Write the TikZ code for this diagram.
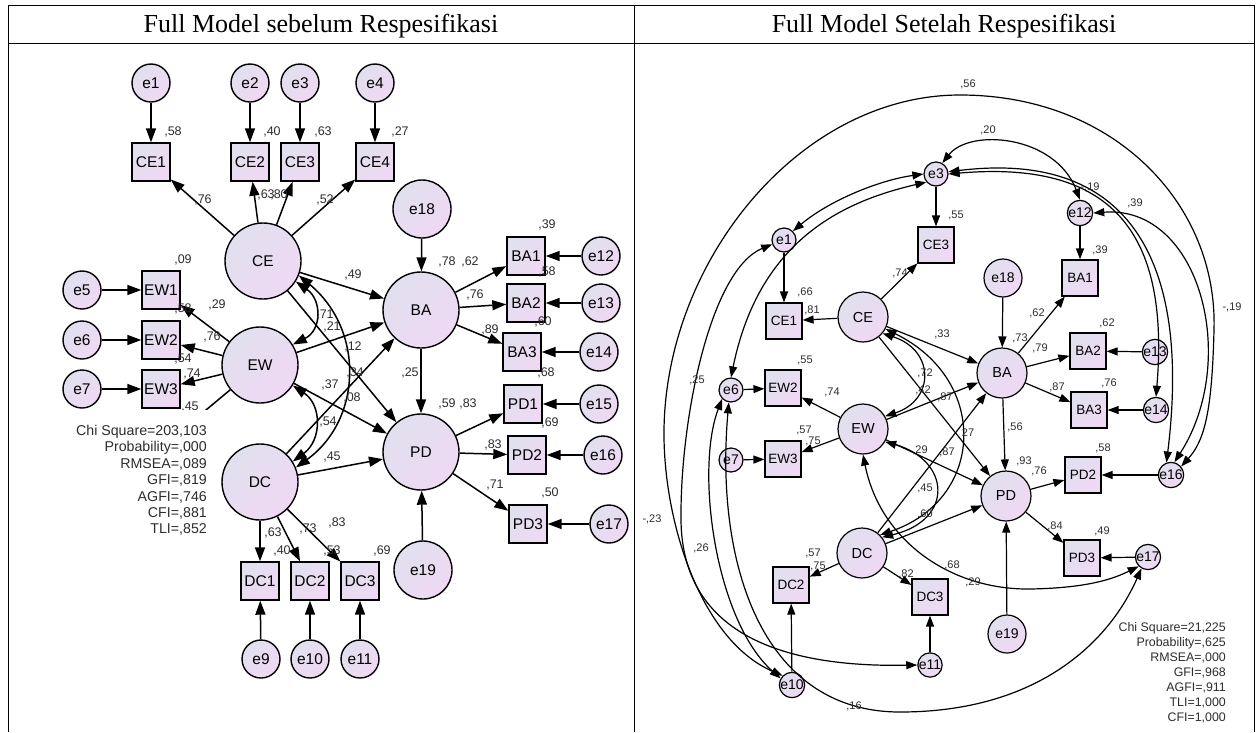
\documentclass[tikz,border=0pt]{standalone}
\usepackage{fontspec}
\setmainfont{Liberation Sans}
\newfontfamily\ttlfont{Liberation Serif}
\usetikzlibrary{arrows.meta}
\definecolor{shA}{RGB}{224,224,238}
\definecolor{shB}{RGB}{240,216,244}
\definecolor{lbl}{RGB}{45,45,45}
\begin{document}
\begin{tikzpicture}[x=1pt,y=1pt,
 shd/.style={top color=shA, bottom color=shB, shading angle=45},
 latL/.style={circle, draw, line width=1.4pt, minimum size=76pt, inner sep=0pt, shd, font=\fontsize{15.5}{18}\selectfont},
 obsL/.style={rectangle, draw, line width=1.4pt, minimum width=38pt, minimum height=38pt, inner sep=0pt, shd, font=\fontsize{15.5}{18}\selectfont},
 errL/.style={circle, draw, line width=1.4pt, minimum size=38pt, inner sep=0pt, shd, font=\fontsize{15.5}{18}\selectfont},
 bigeL/.style={errL, minimum size=58pt},
 lnL/.style={line width=1.5pt},
 arL/.style={lnL, -{Triangle[length=14pt,width=10pt]}},
 darL/.style={lnL, {Triangle[length=14pt,width=10pt]}-{Triangle[length=14pt,width=10pt]}},
 coL/.style={font=\fontsize{12.5}{14}\selectfont, text=lbl, inner sep=0pt},
 latR/.style={circle, draw, line width=1.2pt, minimum size=50pt, inner sep=0pt, shd, font=\fontsize{14.5}{17}\selectfont},
 obsR/.style={rectangle, draw, line width=1.2pt, minimum width=36pt, minimum height=36pt, inner sep=0pt, shd, font=\fontsize{13.5}{16}\selectfont},
 errR/.style={circle, draw, line width=1.2pt, minimum size=24pt, inner sep=0pt, shd, font=\fontsize{14}{16}\selectfont},
 bigeR/.style={errR, minimum size=38pt},
 lnR/.style={line width=1.2pt},
 arR/.style={lnR, -{Triangle[length=11pt,width=8pt]}},
 darR/.style={lnR, {Triangle[length=11pt,width=8pt]}-{Triangle[length=11pt,width=8pt]}},
 coR/.style={font=\fontsize{11}{13}\selectfont, text=lbl, inner sep=0pt},
 ttl/.style={font=\ttlfont\fontsize{26}{30}\selectfont, anchor=base, inner sep=0pt}
]
\useasboundingbox (0,0) rectangle (1259,-732);
\fill[white] (0,0) rectangle (1259,-732);
% table
\draw[line width=0.8pt] (8,-5) -- (1254,-5) (8,-43) -- (1254,-43)
  (8,-5) -- (8,-732) (634,-5) -- (634,-732) (1254,-5) -- (1254,-732);
\node[ttl] (t1) at (321,-32) {Full Model sebelum Respesifikasi};
\node[ttl] (t2) at (944,-32) {Full Model Setelah Respesifikasi};

% ================= LEFT =================
\node[errL] (Le1) at (151,-83) {e1};
\node[errL] (Le2) at (250,-83) {e2};
\node[errL] (Le3) at (300,-83) {e3};
\node[errL] (Le4) at (375,-83) {e4};
\node[obsL] (LCE1) at (151,-162) {CE1};
\node[obsL] (LCE2) at (250,-162) {CE2};
\node[obsL] (LCE3) at (300,-162) {CE3};
\node[obsL] (LCE4) at (375,-162) {CE4};
\node[latL] (LCE) at (263,-261) {CE};
\node[latL] (LEW) at (260,-365) {EW};
\node[latL] (LDC) at (260,-482) {DC};
\node[latL] (LBA) at (421,-310) {BA};
\node[latL] (LPD) at (421,-452) {PD};
\node[bigeL] (Le18) at (422,-209) {e18};
\node[bigeL] (Le19) at (423,-570) {e19};
\node[errL] (Le5) at (82,-290) {e5};
\node[errL] (Le6) at (82,-340) {e6};
\node[errL] (Le7) at (82,-389) {e7};
\node[obsL] (LEW1) at (161,-290) {EW1};
\node[obsL] (LEW2) at (161,-340) {EW2};
\node[obsL] (LEW3) at (161,-389) {EW3};
\node[obsL] (LBA1) at (526,-256) {BA1};
\node[obsL] (LBA2) at (526,-303) {BA2};
\node[obsL] (LBA3) at (522,-352) {BA3};
\node[obsL] (LPD1) at (523,-404) {PD1};
\node[obsL] (LPD2) at (527,-455) {PD2};
\node[obsL] (LPD3) at (528,-524) {PD3};
\node[errL] (Le12) at (601,-256) {e12};
\node[errL] (Le13) at (601,-303) {e13};
\node[errL] (Le14) at (599,-352) {e14};
\node[errL] (Le15) at (599,-404) {e15};
\node[errL] (Le16) at (603,-455) {e16};
\node[errL] (Le17) at (609,-524) {e17};
\node[obsL] (LDC1) at (260,-581) {DC1};
\node[obsL] (LDC2) at (310,-581) {DC2};
\node[obsL] (LDC3) at (360,-581) {DC3};
\node[errL] (Le9) at (261,-659) {e9};
\node[errL] (Le10) at (310,-659) {e10};
\node[errL] (Le11) at (360,-659) {e11};
\coordinate (LEW4) at (170,-440);

\foreach \a/\b in {Le1/LCE1,Le2/LCE2,Le3/LCE3,Le4/LCE4,LCE/LCE1,LCE/LCE2,LCE/LCE3,LCE/LCE4,
  Le5/LEW1,Le6/LEW2,Le7/LEW3,LEW/LEW1,LEW/LEW2,LEW/LEW3,
  Le18/LBA,Le19/LPD,LBA/LBA1,LBA/LBA2,LBA/LBA3,LPD/LPD1,LPD/LPD2,LPD/LPD3,
  Le12/LBA1,Le13/LBA2,Le14/LBA3,Le15/LPD1,Le16/LPD2,Le17/LPD3,
  LDC/LDC1,LDC/LDC2,LDC/LDC3,Le9/LDC1,Le10/LDC2,Le11/LDC3,
  LCE/LBA,LCE/LPD,LEW/LBA,LEW/LPD,LDC/LBA,LDC/LPD,LBA/LPD}
  \draw[arL] (\a) -- (\b);
\draw[lnL] (LEW) -- (LEW4);
\draw[darL] (LCE.-32) .. controls (322,-300) and (322,-330) .. (LEW.32);
\draw[darL] (LCE.-22) .. controls (365,-330) and (362,-420) .. (LDC.22);
\draw[darL] (LEW.-32) .. controls (322,-405) and (322,-440) .. (LDC.32);

\node[coL] (l1) at (173,-132) {,58};
\node[coL] (l2) at (272,-132) {,40};
\node[coL] (l3) at (323,-132) {,63};
\node[coL] (l4) at (400,-132) {,27};
\node[coL] (l5) at (203,-200) {,76};
\node[coL] (l6) at (266,-195) {,63};
\node[coL] (l7) at (279,-195) {,80};
\node[coL] (l8) at (325,-200) {,52};
\node[coL] (l9) at (183,-260) {,09};
\node[coL] (l10) at (183,-309) {,58};
\node[coL] (l11) at (217,-305) {,29};
\node[coL] (l12) at (212,-337) {,76};
\node[coL] (l13) at (183,-359) {,54};
\node[coL] (l14) at (192,-374) {,74};
\node[coL] (l15) at (190,-407) {,45};
\node[coL] (l16) at (353,-275) {,49};
\node[coL] (l17) at (325,-315) {,71};
\node[coL] (l18) at (332,-327) {,21};
\node[coL] (l19) at (353,-347) {,12};
\node[coL] (l20) at (355,-373) {,34};
\node[coL] (l21) at (330,-385) {,37};
\node[coL] (l22) at (352,-398) {,08};
\node[coL] (l23) at (328,-422) {,54};
\node[coL] (l24) at (332,-457) {,45};
\node[coL] (l25) at (447,-262) {,78};
\node[coL] (l26) at (470,-262) {,62};
\node[coL] (l27) at (547,-225) {,39};
\node[coL] (l28) at (547,-272) {,58};
\node[coL] (l29) at (475,-295) {,76};
\node[coL] (l30) at (543,-322) {,60};
\node[coL] (l31) at (490,-330) {,89};
\node[coL] (l32) at (546,-373) {,68};
\node[coL] (l33) at (410,-373) {,25};
\node[coL] (l34) at (447,-404) {,59};
\node[coL] (l35) at (468,-404) {,83};
\node[coL] (l36) at (550,-423) {,69};
\node[coL] (l37) at (493,-445) {,83};
\node[coL] (l38) at (495,-485) {,71};
\node[coL] (l39) at (550,-493) {,50};
\node[coL] (l40) at (273,-533) {,63};
\node[coL] (l41) at (308,-529) {,73};
\node[coL] (l42) at (337,-523) {,83};
\node[coL] (l43) at (282,-551) {,40};
\node[coL] (l44) at (332,-551) {,53};
\node[coL] (l45) at (382,-551) {,69};

\fill[white] (30,-410) rectangle (216,-545);
\node[anchor=north east, align=right, inner sep=0pt, font=\fontsize{14.2}{16.4}\selectfont, text=lbl] (chiL) at (207,-425)
 {Chi Square=203,103\\Probability=,000\\RMSEA=,089\\GFI=,819\\AGFI=,746\\CFI=,881\\TLI=,852};

% ================= RIGHT =================
\node[errR] (Re1) at (784,-240) {e1};
\node[errR] (Re3) at (936,-174) {e3};
\node[errR] (Re6) at (731,-390) {e6};
\node[errR] (Re7) at (731,-460) {e7};
\node[errR] (Re10) at (792,-685) {e10};
\node[errR] (Re11) at (930,-665) {e11};
\node[errR] (Re12) at (1080,-213) {e12};
\node[errR] (Re13) at (1155,-352) {e13};
\node[errR] (Re14) at (1156,-410) {e14};
\node[errR] (Re16) at (1171,-475) {e16};
\node[errR] (Re17) at (1148,-557) {e17};
\node[bigeR] (Re18) at (1003,-278) {e18};
\node[bigeR] (Re19) at (1007,-634) {e19};
\node[obsR] (RCE1) at (784,-321) {CE1};
\node[obsR] (RCE3) at (936,-245) {CE3};
\node[obsR] (REW2) at (783,-388) {EW2};
\node[obsR] (REW3) at (783,-459) {EW3};
\node[obsR] (RDC2) at (791,-585) {DC2};
\node[obsR] (RDC3) at (930,-597) {DC3};
\node[obsR] (RBA1) at (1080,-278) {BA1};
\node[obsR] (RBA2) at (1088,-351) {BA2};
\node[obsR] (RBA3) at (1089,-410) {BA3};
\node[obsR] (RPD2) at (1083,-475) {PD2};
\node[obsR] (RPD3) at (1082,-558) {PD3};
\node[latR] (RCE) at (863,-317) {CE};
\node[latR] (REW) at (863,-429) {EW};
\node[latR] (RDC) at (862,-553) {DC};
\node[latR] (RBA) at (1002,-373) {BA};
\node[latR] (RPD) at (1006,-496) {PD};

\foreach \a/\b in {Re1/RCE1,Re3/RCE3,Re6/REW2,Re7/REW3,Re10/RDC2,Re11/RDC3,Re12/RBA1,Re13/RBA2,Re14/RBA3,Re16/RPD2,Re17/RPD3,Re18/RBA,Re19/RPD,
  RCE/RCE1,RCE/RCE3,REW/REW2,REW/REW3,RDC/RDC2,RDC/RDC3,RBA/RBA1,RBA/RBA2,RBA/RBA3,RPD/RPD2,RPD/RPD3,
  RCE/RBA,RCE/RPD,REW/RBA,REW/RPD,RDC/RBA,RDC/RPD,RBA/RPD}
  \draw[arR] (\a) -- (\b);
% latent covariances
\draw[darR] (RCE.-40) .. controls (935,-350) and (935,-400) .. (REW.30);
\draw[darR] (RCE.-28) .. controls (990,-380) and (985,-500) .. (RDC.45);
\draw[darR] (REW.-30) .. controls (950,-460) and (955,-520) .. (RDC.38);
\draw[darR] (REW.-90) .. controls (880,-540) and (950,-590) .. (1030,-589) .. controls (1090,-588) and (1115,-578) .. (Re17.-135);
% error covariances
\draw[darR] (Re3.60) .. controls (970,-128) and (1055,-135) .. (Re12.90);
\draw[darR] (Re3.0) .. controls (1110,-160) and (1170,-230) .. (Re14.90);
\draw[darR] (Re3.10) .. controls (1125,-150) and (1192,-255) .. (Re16.110);
\draw[darR] (Re12.0) .. controls (1200,-205) and (1240,-360) .. (Re16.75);
\draw[darR] (Re10.135) .. controls (700,-640) and (663,-520) .. (664,-430) .. controls (666,-260) and (800,-95) .. (960,-95) .. controls (1115,-95) and (1218,-205) .. (1214,-330) .. controls (1212,-410) and (1205,-440) .. (Re16.40);
\draw[darR] (Re1.45) .. controls (830,-200) and (880,-180) .. (Re3.180);
\draw[darR] (Re3.-140) .. controls (850,-200) and (760,-235) .. (Re6.90);
\draw[darR] (Re1.-160) .. controls (710,-270) and (680,-420) .. (681,-520) .. controls (682,-620) and (760,-668) .. (Re11.180);
\draw[darR] (Re6.-135) .. controls (695,-470) and (715,-620) .. (Re10.150);
\draw[darR] (Re6.-100) .. controls (715,-560) and (760,-712) .. (900,-712) .. controls (1040,-712) and (1110,-640) .. (Re17.-120);

\node[coR] (r1) at (805,-292) {,66};
\node[coR] (r2) at (812,-310) {,81};
\node[coR] (r3) at (900,-273) {,74};
\node[coR] (r4) at (956,-215) {,55};
\node[coR] (r5) at (1100,-250) {,39};
\node[coR] (r6) at (942,-334) {,33};
\node[coR] (r7) at (1020,-338) {,73};
\node[coR] (r8) at (1037,-313) {,62};
\node[coR] (r9) at (1040,-348) {,79};
\node[coR] (r10) at (1107,-323) {,62};
\node[coR] (r11) at (1057,-387) {,87};
\node[coR] (r12) at (1109,-383) {,76};
\node[coR] (r13) at (805,-360) {,55};
\node[coR] (r14) at (832,-392) {,74};
\node[coR] (r15) at (804,-430) {,57};
\node[coR] (r16) at (813,-441) {,75};
\node[coR] (r17) at (925,-373) {,72};
\node[coR] (r18) at (923,-390) {,42};
\node[coR] (r19) at (945,-397) {,87};
\node[coR] (r20) at (968,-433) {27};
\node[coR] (r21) at (1015,-427) {,56};
\node[coR] (r22) at (920,-450) {,29};
\node[coR] (r23) at (947,-452) {,87};
\node[coR] (r24) at (1024,-461) {,93};
\node[coR] (r25) at (1039,-471) {,76};
\node[coR] (r26) at (1103,-448) {,58};
\node[coR] (r27) at (925,-488) {,45};
\node[coR] (r28) at (925,-514) {,60};
\node[coR] (r29) at (1055,-526) {,84};
\node[coR] (r30) at (1102,-531) {,49};
\node[coR] (r31) at (813,-553) {,57};
\node[coR] (r32) at (818,-566) {,75};
\node[coR] (r33) at (906,-574) {,82};
\node[coR] (r34) at (952,-565) {,68};
\node[coR] (r35) at (973,-582) {,29};
\node[coR] (r36) at (968,-84) {,56};
\node[coR] (r37) at (988,-130) {,20};
\node[coR] (r38) at (1090,-187) {-,19};
\node[coR] (r39) at (1135,-203) {,39};
\node[coR] (r40) at (1232,-307) {-,19};
\node[coR] (r41) at (697,-380) {,25};
\node[coR] (r42) at (652,-519) {-,23};
\node[coR] (r43) at (701,-548) {,26};
\node[coR] (r44) at (854,-706) {,16};

\node[anchor=north east, align=right, inner sep=0pt, font=\fontsize{12.4}{15}\selectfont, text=lbl] (chiR) at (1226,-622)
 {Chi Square=21,225\\Probability=,625\\RMSEA=,000\\GFI=,968\\AGFI=,911\\TLI=1,000\\CFI=1,000};
\end{tikzpicture}
\end{document}
